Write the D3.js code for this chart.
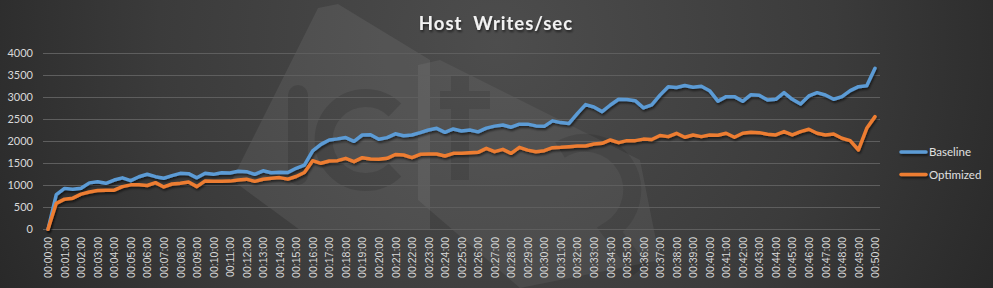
<!DOCTYPE html>
<html><head><meta charset="utf-8">
<script src="https://cdn.jsdelivr.net/npm/d3@7/dist/d3.min.js"></script>
<style>html,body{margin:0;padding:0;background:#2b2b2b;overflow:hidden}</style>
</head><body>
<svg id="c" width="993" height="288"></svg>
<script>
const title = "Host  Writes/sec";
const seriesNames = ["Baseline", "Optimized"];
const seriesColors = ["#5b9bd5", "#ed7d31"];
const yTicks = [0, 500, 1000, 1500, 2000, 2500, 3000, 3500, 4000];
// one sample every 30 s, 00:00:00 .. 00:50:00
const times = d3.range(0, 101).map(i => {
  const s = i * 30, m = Math.floor(s / 60), sec = s % 60;
  return "00:" + String(m).padStart(2, "0") + ":" + String(sec).padStart(2, "0");
});
const baseline = [0,790,930,910,935,1055,1080,1045,1120,1170,1105,1195,1250,1196,1160,1219,1272,1265,1170,1272,
  1249,1287,1280,1320,1310,1249,1330,1285,1295,1290,1386,1461,1780,1930,2030,2055,2085,2000,2143,2150,
  2045,2083,2170,2125,2143,2196,2257,2295,2204,2280,2234,2257,2215,2300,2345,2370,2320,2390,2390,2350,
  2340,2465,2425,2405,2630,2835,2780,2674,2825,2955,2950,2923,2760,2830,3050,3242,3222,3268,3230,3250,
  3150,2912,3015,3015,2910,3060,3045,2939,2955,3106,2955,2848,3030,3106,3053,2955,3015,3152,3242,3265,3659];
const optimized = [0,590,685,708,800,848,880,890,890,970,1010,1010,995,1060,962,1030,1045,1075,970,1100,
  1090,1090,1095,1120,1140,1090,1136,1160,1175,1140,1200,1290,1560,1500,1552,1560,1613,1537,1628,1598,
  1590,1613,1700,1688,1630,1704,1711,1711,1666,1727,1727,1742,1749,1840,1764,1817,1727,1863,1800,1764,
  1787,1855,1863,1878,1893,1893,1939,1954,2030,1969,2015,2015,2050,2040,2132,2106,2182,2091,2144,2106,
  2144,2136,2182,2091,2182,2205,2197,2159,2144,2220,2144,2220,2273,2182,2144,2167,2068,2015,1803,2295,2561];
const xTickLabels = times.filter((t, i) => i % 2 === 0);

const W = 993, H = 288;
const svg = d3.select("#c");
const defs = svg.append("defs");
const bg = defs.append("radialGradient").attr("id", "bg")
  .attr("cx", 0.5).attr("cy", 0.15).attr("r", 0.62).attr("gradientTransform", "translate(0.5 0.15) scale(1 3.4) translate(-0.5 -0.15)");
bg.append("stop").attr("offset", "0%").attr("stop-color", "#4d4d4d");
bg.append("stop").attr("offset", "55%").attr("stop-color", "#3b3b3b");
bg.append("stop").attr("offset", "100%").attr("stop-color", "#242424");
const sh = defs.append("filter").attr("id", "sh").attr("filterUnits", "userSpaceOnUse")
  .attr("x", 0).attr("y", 0).attr("width", W).attr("height", H);
sh.append("feDropShadow").attr("dx", 1).attr("dy", 2).attr("stdDeviation", 1.2).attr("flood-color", "#000").attr("flood-opacity", 0.55);

svg.append("rect").attr("width", W).attr("height", H).attr("fill", "url(#bg)");

// faint watermark logo
const wm = svg.append("g");
wm.append("path").attr("d", "M232,180 L318,8 L338,4 L430,60 L430,230 L300,230 Z").attr("fill", "#ffffff").attr("opacity", 0.07);
wm.append("path").attr("d", "M418,65 L440,60 L640,160 L660,260 L520,288 L418,200 Z").attr("fill", "#ffffff").attr("opacity", 0.06);
wm.append("rect").attr("x", 288).attr("y", 85).attr("width", 20).attr("height", 100).attr("rx", 10).attr("fill", "#000").attr("opacity", 0.12);
wm.append("path").attr("d", "M395,110 A42,42 0 1,0 395,170").attr("fill", "none").attr("stroke", "#000").attr("stroke-width", 18).attr("opacity", 0.12);
wm.append("path").attr("d", "M460,75 L460,180 M440,100 L490,100").attr("fill", "none").attr("stroke", "#000").attr("stroke-width", 18).attr("opacity", 0.1);
wm.append("path").attr("d", "M560,150 A45,45 0 1,1 610,230 L640,270").attr("fill", "none").attr("stroke", "#000").attr("stroke-width", 18).attr("opacity", 0.1);

const x = d3.scalePoint().domain(times).range([48, 875]);
const y = d3.scaleLinear().domain([0, 4000]).range([229.3, 53.3]);

// gridlines
svg.append("g").selectAll("line").data(yTicks).join("line")
  .attr("x1", 43).attr("x2", 880)
  .attr("y1", d => Math.round(y(d)) + 0.5).attr("y2", d => Math.round(y(d)) + 0.5)
  .attr("stroke", "#5e5e5e").attr("stroke-width", 1);

// y axis labels
const yAxis = d3.axisLeft(y).tickValues(yTicks).tickFormat(d3.format("d")).tickSize(0).tickPadding(0);
const ga = svg.append("g").attr("transform", "translate(33,0)").call(yAxis);
ga.select(".domain").remove();
ga.selectAll("text").attr("fill", "#d9d9d9").attr("font-family", "Lato, 'Open Sans', sans-serif").attr("font-size", 11);

// x axis labels
const xAxis = d3.axisBottom(x).tickValues(xTickLabels).tickSize(0).tickPadding(0);
const gx = svg.append("g").attr("transform", "translate(0,236)").call(xAxis);
gx.select(".domain").remove();
gx.selectAll("text")
  .attr("transform", "rotate(-90)").attr("text-anchor", "end")
  .attr("x", -1).attr("y", 0).attr("dy", "0.35em")
  .attr("fill", "#d9d9d9").attr("font-family", "'Liberation Sans', Arial, sans-serif").attr("font-size", 10.5);

// lines
const line = d3.line().x((d, i) => x(times[i])).y(d => y(d));
[baseline, optimized].forEach((s, k) => {
  svg.append("path").datum(s).attr("d", line).attr("fill", "none")
    .attr("stroke", seriesColors[k]).attr("stroke-width", 3.5)
    .attr("stroke-linejoin", "round").attr("stroke-linecap", "round")
    .attr("filter", "url(#sh)");
});

// title
svg.append("text").attr("x", 496).attr("y", 30).attr("text-anchor", "middle")
  .attr("font-family", "Lato, 'Open Sans', sans-serif").attr("font-weight", "bold").attr("font-size", 18.5)
  .attr("letter-spacing", 1).attr("fill", "#f2f2f2").attr("filter", "url(#sh)").style("white-space", "pre").text(title);

// legend
const lg = svg.append("g");
seriesNames.forEach((n, k) => {
  const yy = 152 + k * 22.5;
  lg.append("line").attr("x1", 901).attr("x2", 926).attr("y1", yy).attr("y2", yy)
    .attr("stroke", seriesColors[k]).attr("stroke-width", 3.5).attr("stroke-linecap", "round").attr("filter", "url(#sh)");
  lg.append("text").attr("x", 929).attr("y", yy).attr("dy", "0.35em")
    .attr("font-family", "Lato, 'Open Sans', sans-serif").attr("font-size", 11.5).attr("fill", "#e0e0e0").text(n);
});
</script>
</body></html>
